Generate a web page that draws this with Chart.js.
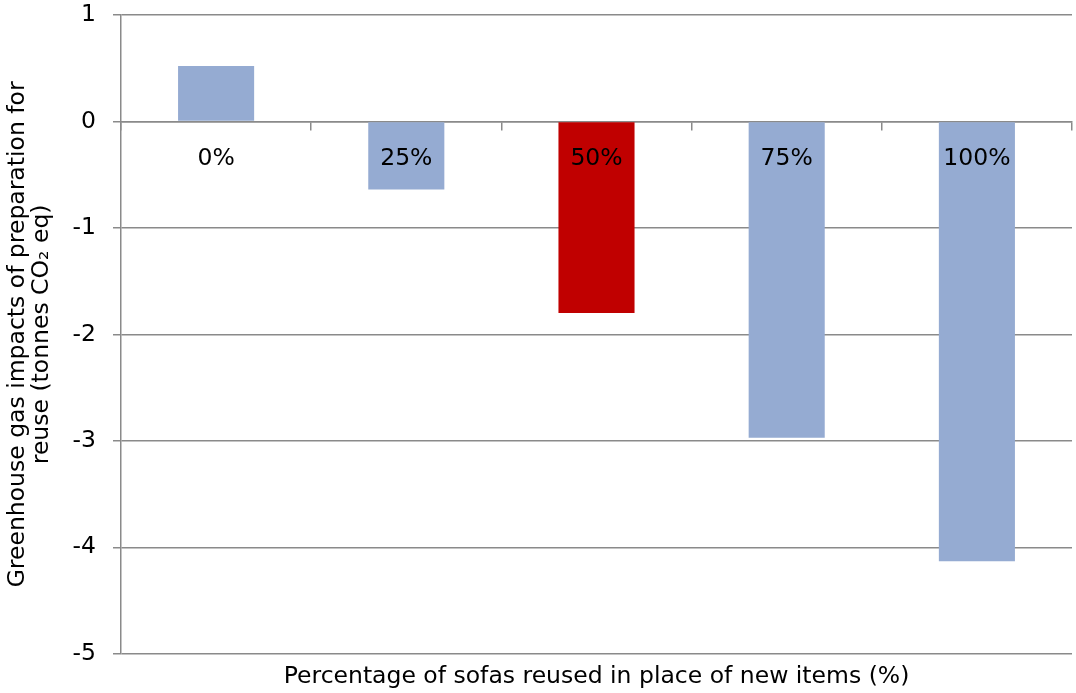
<!DOCTYPE html>
<html>
<head>
<meta charset="utf-8">
<script src="https://cdn.jsdelivr.net/npm/chart.js@4"></script>
<style>
  html, body { margin: 0; padding: 0; background: #ffffff; }
  #wrap { width: 1076px; height: 693px; }
</style>
</head>
<body>
<div id="wrap"><canvas id="c" width="1076" height="693"></canvas></div>
<script>
// Share of sofas reused instead of buying new ones
const categories = ['0%', '25%', '50%', '75%', '100%'];
// Net greenhouse gas impact, tonnes CO2 eq
const impacts = [0.52, -0.64, -1.80, -2.97, -4.13];
const barColors = ['#95abd2', '#95abd2', '#c00000', '#95abd2', '#95abd2'];
const yTicks = [1, 0, -1, -2, -3, -4, -5];

const FONT = 'DejaVu Sans, Verdana, sans-serif';
const SIZE = 23.5;
const GRID = '#8a8a8a';

new Chart(document.getElementById('c'), {
  type: 'bar',
  data: {
    labels: categories,
    datasets: [{
      data: impacts,
      backgroundColor: barColors,
      borderWidth: 0,
      categoryPercentage: 1,
      barPercentage: 0.4
    }]
  },
  options: {
    responsive: false,
    animation: false,
    devicePixelRatio: 1,
    layout: { padding: { top: 15, right: 4, left: 0, bottom: 0 } },
    plugins: {
      legend: { display: false },
      tooltip: { enabled: false },
      title: {
        display: true,
        position: 'bottom',
        fullSize: false,
        text: 'Percentage of sofas reused in place of new items (%)',
        color: '#000000',
        font: { family: FONT, size: SIZE, weight: 'normal', lineHeight: 1.2 },
        padding: { top: 9, bottom: 2 }
      }
    },
    scales: {
      x: {
        position: { y: 0 },
        offset: true,
        grid: {
          offset: true,
          drawOnChartArea: false,
          drawTicks: true,
          tickLength: 8,
          color: GRID,
          lineWidth: 1.5
        },
        border: { display: true, color: GRID, width: 1.5 },
        ticks: {
          z: 1,
          color: '#000000',
          font: { family: FONT, size: SIZE },
          padding: 15,
          autoSkip: false,
          maxRotation: 0
        }
      },
      y: {
        min: -5,
        max: 1,
        afterBuildTicks: (axis) => { axis.ticks = yTicks.map(v => ({ value: v })); },
        afterFit: (axis) => {
          axis.width = 121;
          axis.paddingTop = 0;
          axis.paddingBottom = 0;
        },
        grid: {
          color: GRID,
          lineWidth: 1.5,
          tickLength: 8
        },
        border: { display: true, color: GRID, width: 1.5 },
        ticks: {
          color: '#000000',
          font: { family: FONT, size: SIZE },
          padding: 17,
          callback: (v) => String(v)
        },
        title: {
          display: true,
          text: ['Greenhouse gas impacts of preparation for', 'reuse (tonnes CO\u2082 eq)'],
          color: '#000000',
          font: { family: FONT, size: SIZE, lineHeight: 1.06 },
          padding: { top: 5, bottom: 0 }
        }
      }
    }
  }
});
</script>
</body>
</html>
